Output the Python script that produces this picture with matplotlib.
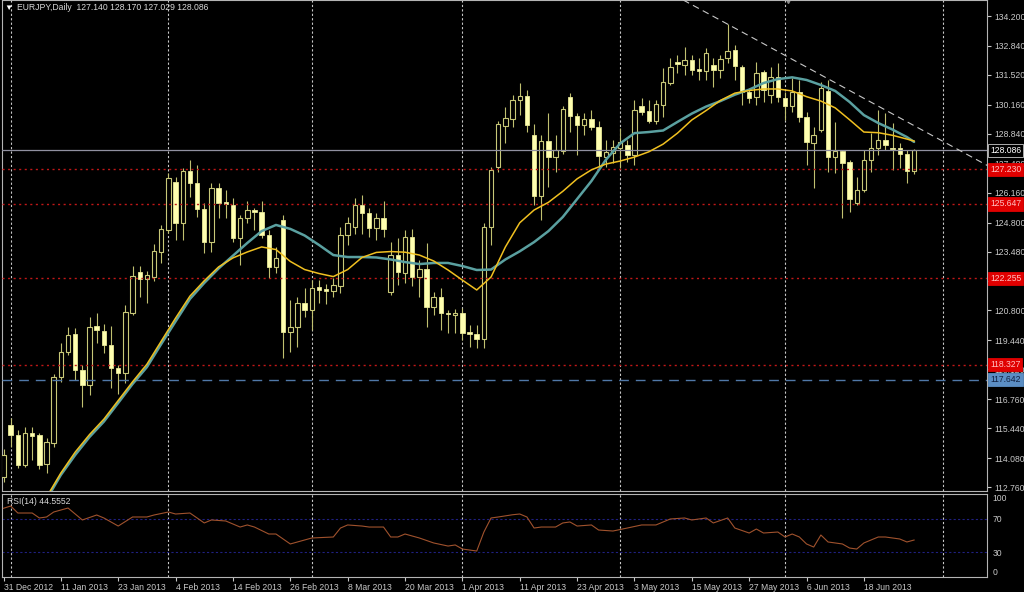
import matplotlib.pyplot as plt
import numpy as np

plt.rcParams['font.family'] = ['Liberation Sans', 'DejaVu Sans']

# daily OHLC, EURJPY, 31 Dec 2012 .. 27 Jun 2013
opens = [113.20, 115.58, 115.13, 113.76, 115.20, 115.13, 113.80, 114.76, 117.77, 118.90,
         119.73, 118.09, 117.40, 120.10, 119.86, 119.23, 118.20, 117.95, 120.70, 122.55,
         122.23, 122.30, 123.46, 124.46, 126.64, 124.78, 127.14, 126.60, 125.41, 123.91,
         126.37, 125.75, 125.60, 124.10, 125.00, 125.37, 125.28, 124.23, 122.78, 124.90,
         119.80, 120.04, 121.14, 120.80, 121.85, 121.78, 121.70, 121.90, 124.23, 124.60,
         125.60, 125.23, 124.55, 125.00, 121.64, 123.32, 122.50, 124.14, 122.32, 122.70,
         120.96, 121.40, 120.70, 120.60, 120.70, 119.80, 119.72, 119.50, 124.60, 127.33,
         129.20, 129.50, 130.37, 130.56, 128.80, 126.00, 128.50, 127.78, 128.06, 130.50,
         129.65, 129.24, 129.50, 129.15, 127.78, 127.97, 128.19, 128.33, 127.87, 130.10,
         129.87, 129.42, 130.15, 131.15, 132.10, 131.97, 132.20, 131.80, 131.70, 131.97,
         131.74, 132.30, 132.65, 131.88, 130.74, 130.50, 131.65, 130.60, 131.42, 130.47,
         130.10, 130.74, 129.60, 128.42, 129.00, 130.78, 127.78, 128.06, 127.56, 125.69,
         126.28, 127.65, 128.19, 128.56, 128.19, 128.20, 127.92, 127.14]
highs = [114.50, 115.90, 115.36, 115.49, 115.50, 115.20, 115.00, 117.90, 119.30, 120.05,
         120.00, 118.30, 120.50, 120.70, 120.20, 120.10, 118.30, 121.05, 122.80, 122.80,
         122.60, 123.82, 124.70, 127.05, 126.87, 127.30, 127.65, 127.42, 125.69, 126.60,
         126.60, 126.30, 125.90, 125.15, 125.80, 125.46, 125.80, 124.46, 123.70, 125.15,
         121.27, 121.40, 121.80, 122.18, 122.18, 122.00, 122.27, 124.60, 125.05, 125.90,
         126.05, 125.46, 125.23, 125.80, 123.90, 124.10, 124.46, 124.50, 123.10, 123.87,
         121.65, 121.80, 120.83, 120.85, 120.90, 120.13, 120.13, 124.80, 127.33, 129.40,
         130.05, 130.60, 131.15, 130.83, 129.30, 128.80, 129.78, 128.80, 130.10, 130.70,
         129.78, 129.78, 129.92, 129.40, 128.56, 128.56, 129.10, 128.56, 130.37, 130.47,
         130.37, 130.37, 131.83, 132.30, 132.43, 132.80, 132.43, 132.30, 132.75, 132.30,
         132.43, 133.84, 132.88, 131.97, 130.92, 132.10, 131.74, 131.88, 132.06, 130.74,
         131.40, 131.30, 129.83, 129.15, 131.20, 131.30, 129.38, 128.10, 127.65, 126.87,
         128.10, 128.88, 129.92, 129.78, 129.33, 128.42, 128.10, 128.17]
lows = [113.00, 114.58, 113.63, 113.67, 114.00, 113.60, 113.40, 114.60, 117.55, 118.77,
        117.63, 116.40, 116.95, 119.30, 118.86, 117.27, 117.00, 117.50, 120.60, 121.40,
        121.15, 122.14, 122.96, 124.32, 124.00, 124.00, 125.96, 125.05, 123.41, 123.46,
        125.00, 125.00, 123.90, 122.87, 124.80, 124.46, 124.10, 122.27, 122.50, 118.63,
        118.90, 119.13, 120.50, 119.90, 121.14, 121.10, 121.40, 121.60, 123.78, 124.30,
        124.30, 124.14, 124.00, 124.14, 121.50, 121.95, 122.05, 121.90, 121.40, 120.05,
        120.60, 119.90, 119.77, 119.77, 119.45, 119.13, 119.10, 119.10, 123.80, 127.10,
        128.40, 129.15, 129.70, 128.92, 125.60, 124.90, 126.40, 127.10, 127.90, 128.92,
        127.87, 128.78, 129.00, 127.33, 127.33, 127.50, 127.30, 127.55, 127.42, 129.70,
        129.33, 129.30, 129.60, 131.06, 131.60, 131.50, 131.50, 131.30, 131.30, 130.97,
        131.38, 132.06, 131.30, 130.15, 130.24, 130.15, 130.30, 130.24, 130.30, 129.47,
        129.83, 129.38, 127.42, 126.37, 128.92, 127.10, 127.05, 125.00, 125.28, 125.60,
        126.20, 127.10, 127.87, 128.10, 127.20, 127.28, 126.60, 127.03]
closes = [114.20, 115.13, 113.76, 115.22, 115.10, 113.76, 114.80, 117.77, 118.90, 119.70,
          118.09, 117.40, 120.05, 119.90, 119.23, 118.20, 117.95, 120.73, 122.37, 122.23,
          122.40, 123.50, 124.50, 126.83, 124.78, 127.14, 126.60, 125.41, 123.91, 126.37,
          125.69, 125.65, 124.10, 125.00, 125.37, 125.28, 124.23, 122.78, 123.19, 119.80,
          120.04, 121.14, 120.80, 121.80, 121.75, 121.70, 121.97, 124.23, 124.78, 125.60,
          125.23, 124.55, 125.00, 124.50, 123.32, 122.55, 124.14, 122.32, 122.70, 120.96,
          121.40, 120.70, 120.62, 120.70, 119.77, 119.72, 119.50, 124.60, 127.20, 129.30,
          129.55, 130.40, 130.56, 129.24, 126.00, 128.50, 127.78, 128.10, 129.97, 129.65,
          129.24, 129.50, 129.15, 127.83, 128.00, 128.24, 128.46, 127.87, 129.92, 129.83,
          129.42, 130.20, 131.20, 131.88, 132.00, 132.20, 131.74, 131.70, 132.50, 131.74,
          132.24, 132.60, 131.93, 130.74, 130.47, 131.60, 130.83, 131.42, 130.50, 130.10,
          130.74, 129.60, 128.46, 128.78, 130.92, 127.78, 128.06, 127.50, 125.87, 126.28,
          127.65, 128.19, 128.56, 128.33, 128.15, 127.90, 127.14, 128.086]

date_bars = list(range(0, 121, 8))
date_labels = ['31 Dec 2012', '11 Jan 2013', '23 Jan 2013', '4 Feb 2013', '14 Feb 2013',
               '26 Feb 2013', '8 Mar 2013', '20 Mar 2013', '1 Apr 2013', '11 Apr 2013',
               '23 Apr 2013', '3 May 2013', '15 May 2013', '27 May 2013', '6 Jun 2013',
               '18 Jun 2013']
month_bars = [1, 23, 43, 64, 86, 109, 131]
price_ticks = [134.200, 132.840, 131.520, 130.160, 128.840, 127.480, 126.160, 124.800,
               123.480, 122.120, 120.800, 119.440, 118.120, 116.760, 115.440, 114.080, 112.760]
hidden_ticks = [122.120]  # sits fully under the 122.255 line label

# moving averages, read every 2 bars
ma_bars = list(range(6, 127, 2)) + [127]
ma_slow = [112.20, 113.31, 114.22, 115.04, 115.74, 116.59, 117.45, 118.22, 119.27, 120.30,
           121.32, 122.05, 122.71, 123.29, 123.87, 124.41, 124.69, 124.51, 124.21, 123.78,
           123.32, 123.23, 123.23, 123.21, 123.12, 123.00, 122.91, 122.96, 122.96, 122.82,
           122.64, 122.66, 123.12, 123.49, 123.91, 124.41, 125.05, 125.87, 126.69, 127.65,
           128.40, 128.87, 128.92, 128.99, 129.38, 129.76, 130.08, 130.33, 130.62, 130.85,
           131.15, 131.33, 131.41, 131.29, 131.06, 130.79, 130.29, 129.69, 129.33, 129.03,
           128.69, 128.47]
ma_fast = [112.30, 113.40, 114.35, 115.15, 115.85, 116.70, 117.55, 118.35, 119.40, 120.45,
           121.45, 122.15, 122.78, 123.19, 123.46, 123.69, 123.57, 123.03, 122.66, 122.48,
           122.34, 122.66, 123.21, 123.44, 123.48, 123.45, 123.32, 123.05, 122.64, 122.18,
           121.73, 122.32, 123.69, 124.79, 125.37, 125.72, 126.22, 126.79, 127.20, 127.46,
           127.60, 127.78, 128.02, 128.37, 128.87, 129.47, 129.90, 130.36, 130.69, 130.81,
           130.88, 130.88, 130.79, 130.53, 130.33, 130.02, 129.48, 128.92, 128.89, 128.77,
           128.60, 128.51]

rsi_bars = [0, 1, 2, 4, 5, 6, 7, 9, 11, 13, 14, 16, 18, 20, 21, 23, 24, 26, 28, 29,
            31, 33, 34, 35, 37, 38, 40, 41, 43, 46, 47, 48, 50, 51, 53, 54, 55, 56, 58, 60,
            62, 63, 64, 66, 67, 68, 69, 71, 72, 73, 74, 75, 77, 78, 79, 80, 82, 83, 85, 87,
            89, 91, 93, 95, 96, 97, 98, 99, 101, 102, 104, 105, 106, 108, 109, 110, 111, 112, 113, 114,
            115, 117, 118, 119, 120, 121, 122, 123, 125, 126, 127]
rsi_vals = [82.8, 85.5, 77.1, 77.1, 71.1, 72.3, 78.3, 83.1, 68.7, 74.7, 71.1, 61.4, 72.3, 72.3, 74.7, 78.3, 75.9, 77.1, 65.1, 68.7,
            67.5, 60.2, 62.7, 60.2, 51.8, 51.8, 39.8, 42.2, 47.0, 48.2, 59.0, 62.7, 61.4, 60.2, 60.2, 48.2, 48.2, 51.8, 47.0, 41.0,
            37.3, 38.6, 33.7, 31.3, 54.2, 71.1, 72.3, 75.0, 75.9, 72.3, 59.0, 60.2, 60.2, 65.1, 66.3, 61.4, 62.7, 56.6, 55.4, 59.0,
            62.7, 62.7, 69.9, 71.1, 68.7, 69.9, 71.1, 65.1, 71.1, 59.0, 53.0, 57.8, 53.0, 54.2, 48.2, 51.8, 48.2, 39.8, 36.1, 50.6,
            42.2, 39.8, 34.9, 33.7, 41.0, 44.6, 48.2, 48.2, 45.8, 42.2, 44.5552]

levels_red = [127.230, 125.647, 122.255, 118.327]
level_blue = 117.642
bid = 128.086
trend_bars = [94.8, 137.2]
trend_prices = [134.93, 127.40]

W, H = 1024, 592
fig = plt.figure(figsize=(W / 100, H / 100), dpi=100, facecolor='black')
ax = fig.add_axes([2 / W, 1 - 491 / H, 985 / W, 491 / H], facecolor='black')
ax2 = fig.add_axes([2 / W, 1 - 577 / H, 985 / W, 83 / H], facecolor='black', sharex=ax)

x = np.arange(len(opens))
o = np.array(opens)
c = np.array(closes)
up = c >= o

# grid at month starts
for a in (ax, ax2):
    for b in month_bars:
        a.axvline(b, color='#c8c8c8', ls=(0, (2, 2)), lw=0.8, zorder=1)

ax.vlines(x, lows, highs, color='#c0c070', lw=0.8, zorder=3)
ax.bar(x[up], (c - o)[up], bottom=o[up], width=0.62, facecolor='black',
       edgecolor='#c8c878', lw=0.8, zorder=4)
ax.bar(x[~up], (c - o)[~up], bottom=o[~up], width=0.62, facecolor='#ffffb0',
       edgecolor='#e8e898', lw=0.6, zorder=4)

ax.plot(ma_bars, ma_slow, color='#5aa0a0', lw=1.8, zorder=6, solid_capstyle='round',
        solid_joinstyle='round')
ax.plot(ma_bars, ma_fast, color='#f0c020', lw=1.1, zorder=7, solid_joinstyle='round')

for lv in levels_red:
    ax.axhline(lv, color='#c01818', ls=(0, (1.5, 2.5)), lw=1.0, zorder=5)
ax.axhline(level_blue, color='#5078a8', ls=(0, (7, 5)), lw=1.0, zorder=5)
ax.axhline(bid, color='#9090a0', lw=0.9, zorder=5)
ax.plot(trend_bars, trend_prices, color='#c8c8c8', ls=(0, (6, 4)), lw=0.8, zorder=5)

ax.set_xlim(-0.21, 137.17)
ax.set_ylim(112.58, 134.93)
ax.yaxis.tick_right()
ax.set_yticks(price_ticks)
ax.set_yticklabels(['' if v in hidden_ticks else f'{v:.3f}' for v in price_ticks])
ax.tick_params(axis='y', colors='#c8c8c8', labelsize=6.2, length=3, pad=2)
ax.tick_params(axis='x', bottom=False, labelbottom=False)


def price_box(v, fc, ec, tc):
    ax.text(1.003, v, f'{v:.3f}', transform=ax.get_yaxis_transform(), ha='left', va='center',
            fontsize=6.2, color=tc, clip_on=False, zorder=10,
            bbox=dict(boxstyle='square,pad=0.25', fc=fc, ec=ec, lw=0.6))


for lv in levels_red:
    price_box(lv, '#e00000', '#e00000', '#ffc0c0')
price_box(level_blue, '#5b8ec4', '#5b8ec4', '#102040')
price_box(bid, 'black', '#c8c8c8', 'white')

# chart shift marker
ax.plot([0.798], [1.0], marker='v', color='#909090', ms=5, transform=ax.transAxes, clip_on=False)

# RSI panel
ax2.plot(rsi_bars, rsi_vals, color='#a0522d', lw=0.8, zorder=3)
for lv in (70, 30):
    ax2.axhline(lv, color='#202080', ls=(0, (2, 2)), lw=0.8, zorder=2)
ax2.set_ylim(0, 100)
ax2.yaxis.tick_right()
ax2.set_yticks([0, 30, 70, 100])
ax2.set_yticklabels(['0', '30', '70', '100'])
ax2.tick_params(axis='y', colors='#c8c8c8', labelsize=6.2, length=0, pad=4)
labs = ax2.get_yticklabels()
labs[0].set_va('bottom')
labs[3].set_va('top')

ax2.set_xticks(date_bars)
ax2.set_xticklabels(date_labels)
ax2.tick_params(axis='x', colors='#c8c8c8', labelsize=6.2, length=3, pad=1)
for t in ax2.get_xticklabels():
    t.set_ha('left')

for a in (ax, ax2):
    for s in a.spines.values():
        s.set_color('#b4b4b4')
        s.set_linewidth(0.8)

fig.text(8 / W, 1 - 8 / H, '▼', fontsize=6, color='white', ha='center', va='center')
fig.text(17 / W, 1 - 8 / H, 'EURJPY,Daily  127.140 128.170 127.029 128.086',
         fontsize=6.2, color='#d8d8d8', va='center')
fig.text(7 / W, 1 - 501 / H, 'RSI(14) 44.5552', fontsize=6.2, color='#d8d8d8', va='center')

fig.savefig('out.png', dpi=100, facecolor='black')
